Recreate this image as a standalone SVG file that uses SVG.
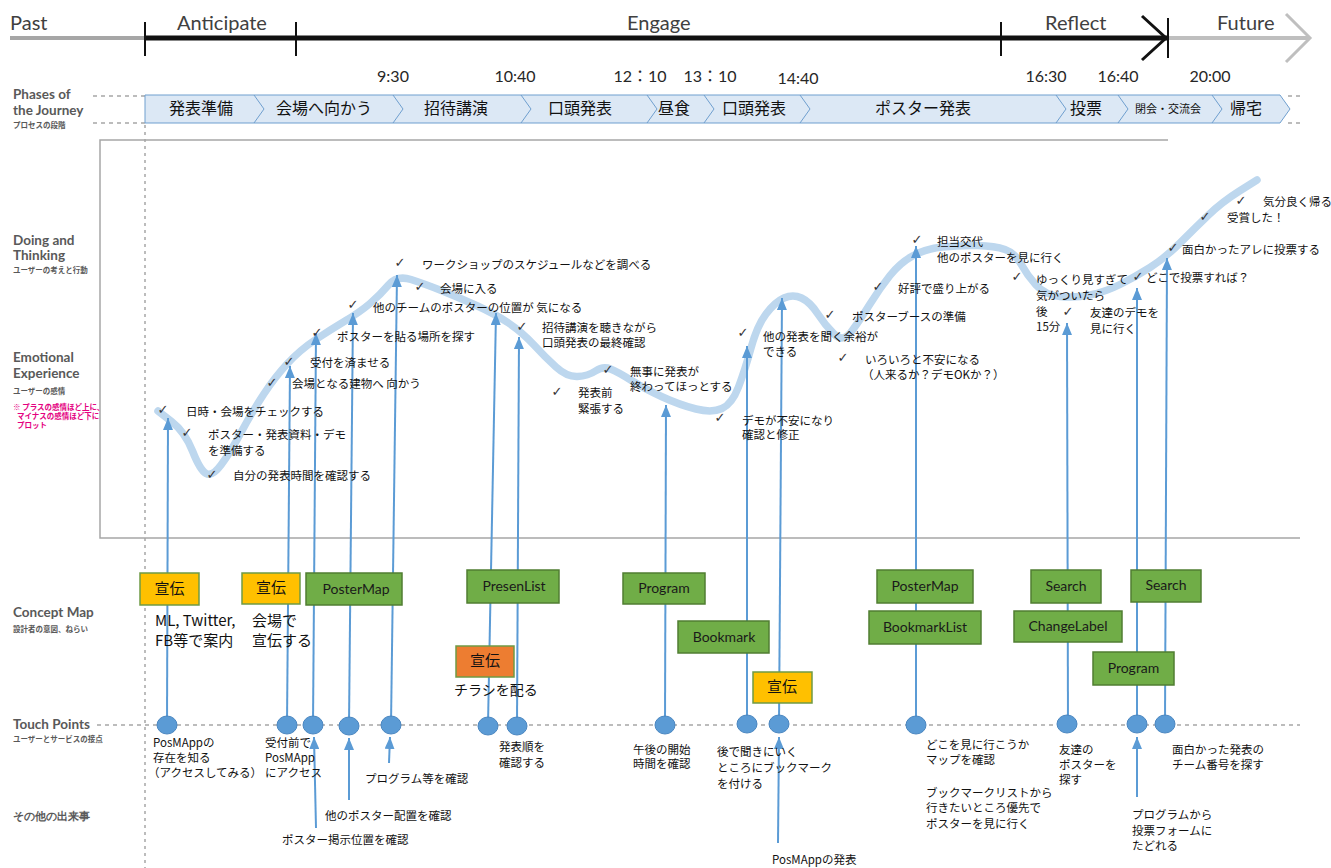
<svg xmlns="http://www.w3.org/2000/svg" width="1331" height="868" viewBox="0 0 1331 868">
<defs>
<style>
.hdr{font-family:Lato,'Open Sans',sans-serif;font-size:20px;fill:#404040}
.time{font-family:Lato,'Open Sans','Noto Sans CJK JP',sans-serif;font-size:16px;fill:#262626;text-anchor:middle}
.phase{font-family:'Noto Sans CJK JP',sans-serif;font-size:16px;fill:#111;text-anchor:middle}
.lbl{font-family:Lato,'Open Sans',sans-serif;font-weight:bold;font-size:13.5px;fill:#595959}
.lbls{font-family:'Noto Sans CJK JP',sans-serif;font-weight:bold;font-size:7.5px;fill:#595959}
.pink{font-family:'Noto Sans CJK JP',sans-serif;font-weight:bold;font-size:7.5px;fill:#e4007f}
.t{font-family:'Noto Sans CJK JP',sans-serif;font-size:11.5px;fill:#111}
.chk{font-family:'DejaVu Sans',sans-serif;font-size:13px;fill:#333;text-anchor:middle}
.cmj{font-family:'Noto Sans CJK JP',sans-serif;font-size:15px;fill:#111}
.box-y{fill:#ffc000;stroke:#6f9a45;stroke-width:1.5}
.box-o{fill:#ed7d31;stroke:#6f9a45;stroke-width:1.5}
.box-g{fill:#70ad47;stroke:#507e32;stroke-width:1.5}
.bt{font-family:Lato,'Open Sans',sans-serif;font-size:14px;fill:#1a1a1a;text-anchor:middle}
.btj{font-family:'Noto Sans CJK JP',sans-serif;font-size:15px;fill:#111;text-anchor:middle}
.arr{stroke:#5b9bd5;stroke-width:2;fill:none;marker-end:url(#ah)}
.tp{fill:#5b9bd5;stroke:#4a86c0;stroke-width:1}
.dash{stroke:#a6a6a6;stroke-width:1.5;stroke-dasharray:4 4;fill:none}
.chev{stroke:#6f9fcf;stroke-width:1;fill:none}
</style>
<marker id="ah" markerUnits="userSpaceOnUse" viewBox="0 0 12 10" refX="12" refY="5" markerWidth="12" markerHeight="10" orient="auto">
<path d="M0,0 L12,5 L0,10 Z" fill="#5b9bd5"/>
</marker>
</defs>
<rect width="1331" height="868" fill="#fff"/>

<g id="timeline">
<line x1="10" y1="38" x2="145" y2="38" stroke="#a6a6a6" stroke-width="4"/>
<line x1="1168" y1="38" x2="1308" y2="38" stroke="#bfbfbf" stroke-width="4"/>
<polyline points="1286,14 1310,38 1286,62" stroke="#bfbfbf" stroke-width="3" fill="none"/>
<line x1="145" y1="38" x2="1168" y2="38" stroke="#111" stroke-width="5"/>
<polyline points="1142,16 1166,38 1142,60" stroke="#111" stroke-width="3" fill="none"/>
<line x1="145" y1="22" x2="145" y2="56" stroke="#111" stroke-width="2"/>
<line x1="296" y1="22" x2="296" y2="56" stroke="#111" stroke-width="2"/>
<line x1="1001" y1="22" x2="1001" y2="56" stroke="#111" stroke-width="2"/>
<line x1="1168" y1="18" x2="1168" y2="58" stroke="#111" stroke-width="2"/>
<text class="hdr" x="10" y="30">Past</text>
<text class="hdr" x="177" y="30">Anticipate</text>
<text class="hdr" x="627" y="30">Engage</text>
<text class="hdr" x="1045" y="30">Reflect</text>
<text class="hdr" x="1217" y="30">Future</text>
<text class="time" x="393" y="82">9:30</text>
<text class="time" x="515" y="82">10:40</text>
<text class="time" x="640" y="82">12：10</text>
<text class="time" x="710" y="82">13：10</text>
<text class="time" x="798" y="84">14:40</text>
<text class="time" x="1046" y="82">16:30</text>
<text class="time" x="1118" y="82">16:40</text>
<text class="time" x="1210" y="82">20:00</text>
</g>

<g id="grid">
<line class="dash" x1="93" y1="96" x2="145" y2="96"/>
<line class="dash" x1="93" y1="123" x2="145" y2="123"/>
<line class="dash" x1="1288" y1="96" x2="1302" y2="96"/>
<line class="dash" x1="1288" y1="123" x2="1302" y2="123"/>
<line x1="145" y1="125" x2="145" y2="868" stroke="#a6a6a6" stroke-width="1.5" stroke-dasharray="3 4"/>
<path d="M1168,140 H100 V538 H1300" stroke="#a6a6a6" stroke-width="1.5" fill="none"/>
<line class="dash" x1="97" y1="725" x2="1300" y2="725"/>
</g>

<g id="labels">
<text class="lbl" x="13" y="99">Phases of</text>
<text class="lbl" x="13" y="115">the Journey</text>
<text class="lbls" x="13" y="128">プロセスの段階</text>
<text class="lbl" x="13" y="245">Doing and</text>
<text class="lbl" x="13" y="260">Thinking</text>
<text class="lbls" x="13" y="273">ユーザーの考えと行動</text>
<text class="lbl" x="13" y="362">Emotional</text>
<text class="lbl" x="13" y="378">Experience</text>
<text class="lbls" x="13" y="394">ユーザーの感情</text>
<text class="pink" x="13" y="410">※ プラスの感情ほど上に、</text>
<text class="pink" x="17" y="419">マイナスの感情ほど下に</text>
<text class="pink" x="17" y="428">プロット</text>
<text class="lbl" x="13" y="617">Concept Map</text>
<text class="lbls" x="13" y="632">設計者の意図、ねらい</text>
<text class="lbl" x="13" y="729">Touch Points</text>
<text class="lbls" x="13" y="742">ユーザーとサービスの接点</text>
<text class="lbl" x="13" y="820" style="font-size:11px">その他の出来事</text>
</g>

<g id="phases">
<path d="M145,95 H1280 L1290,109 L1280,123 H145 Z" fill="#dce8f5" stroke="#6f9fcf" stroke-width="1"/>
<polyline class="chev" points="254,95 264,109 254,123"/>
<polyline class="chev" points="393,95 403,109 393,123"/>
<polyline class="chev" points="521,95 531,109 521,123"/>
<polyline class="chev" points="647,95 657,109 647,123"/>
<polyline class="chev" points="704,95 714,109 704,123"/>
<polyline class="chev" points="800,95 810,109 800,123"/>
<polyline class="chev" points="1056,95 1066,109 1056,123"/>
<polyline class="chev" points="1118,95 1128,109 1118,123"/>
<polyline class="chev" points="1212,95 1222,109 1212,123"/>
<text class="phase" x="201" y="114">発表準備</text>
<text class="phase" x="324" y="114">会場へ向かう</text>
<text class="phase" x="456" y="114">招待講演</text>
<text class="phase" x="580" y="114">口頭発表</text>
<text class="phase" x="674" y="114">昼食</text>
<text class="phase" x="754" y="114">口頭発表</text>
<text class="phase" x="923" y="114">ポスター発表</text>
<text class="phase" x="1086" y="114">投票</text>
<text class="phase" x="1168" y="113" style="font-size:11px">閉会・交流会</text>
<text class="phase" x="1246" y="114">帰宅</text>
</g>

<path id="emotion-curve" d="M158,411 L171.5,421.5 Q185,432 192.5,451 Q200,470 206,473.5 Q212,477 221,465 Q230,453 241,432.5 Q252,412 263.5,394.5 Q275,377 287.5,363.5 Q300,350 315,340 Q330,330 345,321 Q360,312 370,303.5 Q380,295 388.5,285 Q397,275 411,279.5 Q425,284 442.5,291 Q460,298 477.5,306 Q495,314 508.5,323 Q522,332 533.5,344.5 Q545,357 556,367 Q567,377 577.5,376.5 Q588,376 595.5,371 Q603,366 610.5,369 Q618,372 631.5,380.5 Q645,389 662.5,397 Q680,405 696,409 Q712,413 722,408.5 Q732,404 738.5,387 Q745,370 751,348 Q757,326 766,314 Q775,302 784,298 Q793,294 801.5,298 Q810,302 817.5,313.5 Q825,325 834,334 Q843,343 851.5,331.5 Q860,320 870,304 Q880,288 890,275.5 Q900,263 912.5,256 Q925,249 942.5,247 Q960,245 977.5,245.5 Q995,246 1005,249.5 Q1015,253 1021,264 Q1027,275 1036,285 Q1045,295 1060,296.5 Q1075,298 1090,295 Q1105,292 1120,284.5 Q1135,277 1150,267.5 Q1165,258 1180,243 Q1195,228 1208.5,215 Q1222,202 1239.5,191 L1257,180" fill="none" stroke="#bdd7ee" stroke-width="7.5" stroke-linecap="round" stroke-linejoin="round"/>

<g id="connectors">
<line class="arr" x1="167" y1="725" x2="168" y2="418"/>
<line class="arr" x1="287" y1="725" x2="290" y2="366"/>
<line class="arr" x1="313" y1="725" x2="316" y2="333"/>
<line class="arr" x1="349" y1="725" x2="353" y2="313"/>
<line class="arr" x1="391" y1="725" x2="397" y2="275"/>
<line class="arr" x1="488" y1="725" x2="496" y2="313"/>
<line class="arr" x1="517" y1="725" x2="519" y2="337"/>
<line class="arr" x1="665" y1="725" x2="666" y2="405"/>
<line class="arr" x1="747" y1="725" x2="747" y2="346"/>
<line class="arr" x1="779" y1="725" x2="782" y2="298"/>
<line class="arr" x1="916" y1="725" x2="916" y2="246"/>
<line class="arr" x1="1068" y1="725" x2="1067" y2="323"/>
<line class="arr" x1="1137" y1="725" x2="1137" y2="288"/>
<line class="arr" x1="1165" y1="725" x2="1167" y2="258"/>
<line class="arr" x1="316" y1="828" x2="314" y2="737"/>
<line class="arr" x1="349" y1="800" x2="349" y2="738"/>
<line class="arr" x1="389" y1="763" x2="390" y2="737"/>
<line class="arr" x1="778" y1="843" x2="779" y2="737"/>
<line class="arr" x1="1137" y1="797" x2="1137" y2="737"/>
</g>

<g id="n-c1"><text class="chk" x="163" y="414">✓</text><text class="t" x="186" y="416">日時・会場をチェックする</text></g>
<g id="n-c2"><text class="chk" x="187" y="437">✓</text><text class="t" x="208" y="439">ポスター・発表資料・デモ</text><text class="t" x="208" y="455">を準備する</text></g>
<g id="n-c3"><text class="chk" x="212" y="479">✓</text><text class="t" x="233" y="480">自分の発表時間を確認する</text></g>
<g id="n-c4"><text class="chk" x="272" y="387">✓</text><text class="t" x="292" y="388">会場となる建物へ 向かう</text></g>
<g id="n-c5"><text class="chk" x="289" y="366">✓</text><text class="t" x="310" y="367">受付を済ませる</text></g>
<g id="n-c6"><text class="chk" x="317" y="337">✓</text><text class="t" x="337" y="341">ポスターを貼る場所を探す</text></g>
<g id="n-c7"><text class="chk" x="353" y="309">✓</text><text class="t" x="373" y="312">他のチームのポスターの位置が 気になる</text></g>
<g id="n-c8"><text class="chk" x="400" y="267">✓</text><text class="t" x="422" y="269">ワークショップのスケジュールなどを調べる</text></g>
<g id="n-c9"><text class="chk" x="420" y="291">✓</text><text class="t" x="440" y="293">会場に入る</text></g>
<g id="n-c10"><text class="chk" x="522" y="331">✓</text><text class="t" x="542" y="332">招待講演を聴きながら</text><text class="t" x="542" y="347">口頭発表の最終確認</text></g>
<g id="n-c11"><text class="chk" x="557" y="396">✓</text><text class="t" x="578" y="397">発表前</text><text class="t" x="578" y="413">緊張する</text></g>
<g id="n-c12"><text class="chk" x="608" y="374">✓</text><text class="t" x="630" y="376">無事に発表が</text><text class="t" x="630" y="391">終わってほっとする</text></g>
<g id="n-c13"><text class="chk" x="720" y="422">✓</text><text class="t" x="742" y="425">デモが不安になり</text><text class="t" x="742" y="439">確認と修正</text></g>
<g id="n-c14"><text class="chk" x="743" y="337">✓</text><text class="t" x="763" y="341">他の発表を聞く余裕が</text><text class="t" x="763" y="356">できる</text></g>
<g id="n-c15"><text class="chk" x="830" y="319">✓</text><text class="t" x="852" y="321">ポスターブースの準備</text></g>
<g id="n-c16"><text class="chk" x="843" y="362">✓</text><text class="t" x="865" y="364">いろいろと不安になる</text><text class="t" x="862" y="379">（人来るか？デモOKか？）</text></g>
<g id="n-c17"><text class="chk" x="878" y="291">✓</text><text class="t" x="898" y="293">好評で盛り上がる</text></g>
<g id="n-c18"><text class="chk" x="917" y="244">✓</text><text class="t" x="937" y="246">担当交代</text><text class="t" x="937" y="262">他のポスターを見に行く</text></g>
<g id="n-c19"><text class="chk" x="1017" y="281">✓</text><text class="t" x="1036" y="284">ゆっくり見すぎて</text><text class="t" x="1036" y="300">気がついたら</text><text class="t" x="1036" y="316">後</text><text class="t" x="1036" y="331">15分</text></g>
<g id="n-c20"><text class="chk" x="1068" y="316">✓</text><text class="t" x="1090" y="317">友達のデモを</text><text class="t" x="1090" y="333">見に行く</text></g>
<g id="n-c21"><text class="chk" x="1138" y="281">✓</text><text class="t" x="1146" y="282">どこで投票すれば？</text></g>
<g id="n-c22"><text class="chk" x="1173" y="252">✓</text><text class="t" x="1182" y="254">面白かったアレに投票する</text></g>
<g id="n-c23"><text class="chk" x="1205" y="221">✓</text><text class="t" x="1227" y="222">受賞した！</text></g>
<g id="n-c24"><text class="chk" x="1241" y="205">✓</text><text class="t" x="1263" y="206">気分良く帰る</text></g>

<g id="cm-senden1"><rect class="box-y" x="140" y="573" width="59" height="32"/><text class="btj" x="169.5" y="594">宣伝</text></g>
<g id="cm-senden2"><rect class="box-y" x="242" y="573" width="58" height="31"/><text class="btj" x="271" y="593">宣伝</text></g>
<g id="cm-postermap1"><rect class="box-g" x="306" y="573" width="96" height="32"/><text class="bt" x="356" y="594">PosterMap</text></g>
<g id="cm-presenlist"><rect class="box-g" x="467" y="570" width="92" height="33"/><text class="bt" x="514" y="591">PresenList</text></g>
<g id="cm-program1"><rect class="box-g" x="623" y="573" width="82" height="31"/><text class="bt" x="664" y="593">Program</text></g>
<g id="cm-bookmark"><rect class="box-g" x="678" y="621" width="91" height="32"/><text class="bt" x="724" y="642">Bookmark</text></g>
<g id="cm-senden3"><rect class="box-o" x="456" y="646" width="58" height="31"/><text class="btj" x="485" y="666">宣伝</text></g>
<g id="cm-senden4"><rect class="box-y" x="753" y="672" width="59" height="31"/><text class="btj" x="782" y="692">宣伝</text></g>
<g id="cm-postermap2"><rect class="box-g" x="877" y="570" width="96" height="33"/><text class="bt" x="925" y="591">PosterMap</text></g>
<g id="cm-bookmarklist"><rect class="box-g" x="869" y="611" width="112" height="33"/><text class="bt" x="925" y="632">BookmarkList</text></g>
<g id="cm-search1"><rect class="box-g" x="1031" y="570" width="70" height="33"/><text class="bt" x="1066" y="591">Search</text></g>
<g id="cm-changelabel"><rect class="box-g" x="1014" y="611" width="108" height="31"/><text class="bt" x="1068" y="631">ChangeLabel</text></g>
<g id="cm-search2"><rect class="box-g" x="1131" y="570" width="70" height="32"/><text class="bt" x="1166" y="590">Search</text></g>
<g id="cm-program2"><rect class="box-g" x="1093" y="652" width="81" height="33"/><text class="bt" x="1133.5" y="673">Program</text></g>

<g id="cm-notes">
<text class="cmj" x="155" y="626">ML, Twitter,</text>
<text class="cmj" x="155" y="646">FB等で案内</text>
<text class="cmj" x="252" y="626">会場で</text>
<text class="cmj" x="252" y="646">宣伝する</text>
<text class="cmj" x="454" y="695" style="font-size:14px">チラシを配る</text>
</g>

<g id="touchpoints">
<ellipse class="tp" cx="167" cy="725" rx="10" ry="9"/>
<ellipse class="tp" cx="287" cy="725" rx="10" ry="9"/>
<ellipse class="tp" cx="313" cy="725" rx="10" ry="9"/>
<ellipse class="tp" cx="349" cy="726" rx="10" ry="9"/>
<ellipse class="tp" cx="391" cy="725" rx="10" ry="9"/>
<ellipse class="tp" cx="488" cy="726" rx="10" ry="9"/>
<ellipse class="tp" cx="517" cy="726" rx="10" ry="9"/>
<ellipse class="tp" cx="665" cy="725" rx="10" ry="9"/>
<ellipse class="tp" cx="747" cy="724" rx="10" ry="9"/>
<ellipse class="tp" cx="779" cy="724" rx="10" ry="9"/>
<ellipse class="tp" cx="916" cy="725" rx="10" ry="9"/>
<ellipse class="tp" cx="1067" cy="724" rx="10" ry="9"/>
<ellipse class="tp" cx="1137" cy="724" rx="10" ry="9"/>
<ellipse class="tp" cx="1165" cy="724" rx="10" ry="9"/>
</g>

<g id="tp-labels">
<text class="t" x="153" y="747">PosMAppの</text>
<text class="t" x="153" y="762">存在を知る</text>
<text class="t" x="148" y="777">（アクセスしてみる）</text>
<text class="t" x="265" y="747">受付前で</text>
<text class="t" x="265" y="762">PosMApp</text>
<text class="t" x="265" y="777">にアクセス</text>
<text class="t" x="499" y="751">発表順を</text>
<text class="t" x="499" y="767">確認する</text>
<text class="t" x="633" y="754">午後の開始</text>
<text class="t" x="633" y="768">時間を確認</text>
<text class="t" x="717" y="756">後で聞きにいく</text>
<text class="t" x="717" y="772">ところにブックマーク</text>
<text class="t" x="717" y="788">を付ける</text>
<text class="t" x="926" y="749">どこを見に行こうか</text>
<text class="t" x="926" y="764">マップを確認</text>
<text class="t" x="926" y="797">ブックマークリストから</text>
<text class="t" x="926" y="812">行きたいところ優先で</text>
<text class="t" x="926" y="828">ポスターを見に行く</text>
<text class="t" x="1059" y="754">友達の</text>
<text class="t" x="1059" y="769">ポスターを</text>
<text class="t" x="1059" y="784">探す</text>
<text class="t" x="1172" y="754">面白かった発表の</text>
<text class="t" x="1172" y="769">チーム番号を探す</text>
</g>

<g id="other-events">
<text class="t" x="282" y="844">ポスター掲示位置を確認</text>
<text class="t" x="325" y="820">他のポスター配置を確認</text>
<text class="t" x="365" y="783">プログラム等を確認</text>
<text class="t" x="772" y="864">PosMAppの発表</text>
<text class="t" x="1132" y="819">プログラムから</text>
<text class="t" x="1132" y="835">投票フォームに</text>
<text class="t" x="1132" y="850">たどれる</text>
</g>
</svg>
